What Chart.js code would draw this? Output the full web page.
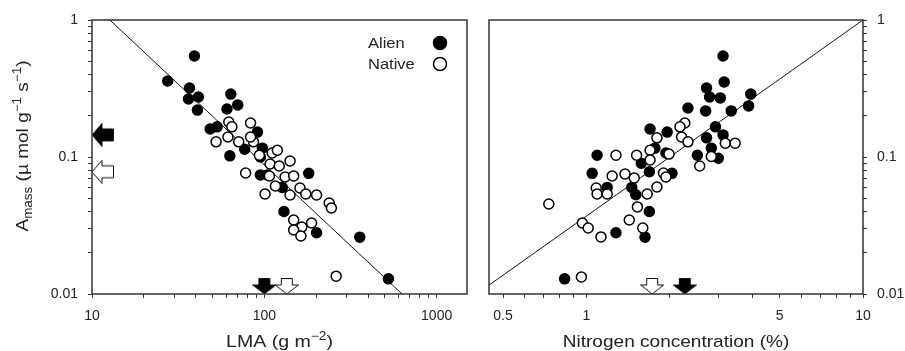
<!DOCTYPE html>
<html>
<head>
<meta charset="utf-8">
<script src="https://cdn.jsdelivr.net/npm/chart.js@4"></script>
<style>
  body { margin: 0; background: #fff; }
  #izq { position: absolute; left: 0; top: 0; }
  #der { position: absolute; left: 478px; top: 0; }
</style>
</head>
<body>
<canvas id="izq" width="478" height="351"></canvas>
<canvas id="der" width="427" height="351"></canvas>
<script>
// Datos (escala log en ambos ejes)
const lmaAlien = [39.3, 27.5, 36.8, 36.3, 41.4, 40.9, 63.9, 70.1, 60.7, 48.5, 53.2, 91.2, 97.4, 76.9, 63.1, 94.9, 94.9, 104, 127, 181, 130, 201, 358, 525];
const amassAlienLma = [0.546, 0.359, 0.319, 0.265, 0.274, 0.220, 0.288, 0.240, 0.224, 0.160, 0.166, 0.152, 0.116, 0.114, 0.102, 0.100, 0.074, 0.074, 0.060, 0.076, 0.040, 0.028, 0.026, 0.0129];

const lmaNative = [62.2, 64.8, 83.2, 52.5, 61.5, 71.0, 86.5, 83.2, 111, 119, 93.6, 141, 108, 122, 77.9, 107, 132, 148, 116, 101, 141, 161, 174, 201, 238, 245, 148, 188, 165, 148, 163, 261];
const amassNativeLma = [0.180, 0.166, 0.177, 0.129, 0.140, 0.129, 0.129, 0.140, 0.107, 0.112, 0.103, 0.0935, 0.0889, 0.0860, 0.0764, 0.0727, 0.0715, 0.0727, 0.0614, 0.0537, 0.0528, 0.0594, 0.0537, 0.0528, 0.0462, 0.0424, 0.0347, 0.0330, 0.0308, 0.0293, 0.0265, 0.0135];

const nAlien = [3.12, 3.15, 2.72, 2.79, 3.05, 3.93, 3.86, 2.33, 2.70, 3.34, 2.93, 2.72, 3.12, 2.83, 2.52, 3.00, 1.70, 1.96, 1.094, 1.05, 1.77, 1.94, 1.58, 1.69, 2.04, 1.19, 1.46, 1.51, 1.69, 1.28, 1.63, 0.835];
const amassAlienN = [0.546, 0.353, 0.319, 0.274, 0.270, 0.288, 0.236, 0.228, 0.217, 0.217, 0.166, 0.138, 0.145, 0.116, 0.103, 0.098, 0.160, 0.152, 0.103, 0.076, 0.116, 0.107, 0.090, 0.078, 0.076, 0.060, 0.060, 0.053, 0.040, 0.028, 0.026, 0.0129];

const nNative = [2.27, 2.18, 1.80, 2.21, 2.33, 1.70, 1.70, 1.52, 1.28, 1.99, 1.24, 1.38, 1.49, 1.90, 1.94, 1.086, 1.094, 1.19, 1.80, 1.66, 1.53, 1.43, 0.968, 1.016, 1.13, 1.60, 0.732, 0.96, 3.18, 3.45, 2.83, 2.57];
const amassNativeN = [0.177, 0.166, 0.138, 0.140, 0.129, 0.112, 0.095, 0.103, 0.103, 0.105, 0.0727, 0.0752, 0.0703, 0.0764, 0.0715, 0.0594, 0.0537, 0.0537, 0.0604, 0.0537, 0.0432, 0.0347, 0.0330, 0.0303, 0.0261, 0.0303, 0.0454, 0.0133, 0.126, 0.126, 0.101, 0.086];

// rectas de regresion (extremos)
const lmaFit = [12.7, 630];
const amassFitLma = [1, 0.01];
const nFit = [0.445, 10];
const amassFitN = [0.0116, 1];

// medias (flechas): [alien, native]
const meanLma = [100, 135];
const meanN = [2.27, 1.73];
const meanAmass = [0.145, 0.078];

// ejes
const lmaRange = [10, 1500];
const nRange = [0.445, 10];
const amassRange = [0.01, 1];
const lmaTicks = [10, 20, 30, 40, 50, 60, 70, 80, 90, 100, 200, 300, 400, 500, 600, 700, 800, 900, 1000];
const lmaLabels = [10, 100, 1000];
const nTicks = [0.5, 0.6, 0.7, 0.8, 0.9, 1, 2, 3, 4, 5, 6, 7, 8, 9, 10];
const nLabels = [0.5, 1, 5, 10];
const amassTicks = [0.01, 0.02, 0.03, 0.04, 0.05, 0.06, 0.07, 0.08, 0.09, 0.1, 0.2, 0.3, 0.4, 0.5, 0.6, 0.7, 0.8, 0.9, 1];
const amassLabels = [0.01, 0.1, 1];

const fuente = '"Liberation Sans", Arial, sans-serif';
Chart.defaults.font.family = fuente;
Chart.defaults.font.size = 14;
Chart.defaults.color = '#222';

function zip(xs, ys) {
  return xs.map(function (x, i) { return {x: x, y: ys[i]}; });
}

// flecha como imagen; la punta queda en el centro del canvas
function crearFlecha(direccion, relleno) {
  var c = document.createElement('canvas');
  var ctx;
  if (direccion === 'izquierda') {
    c.width = 44; c.height = 24;
    ctx = c.getContext('2d');
    ctx.beginPath();
    ctx.moveTo(22, 12);
    ctx.lineTo(32, 0.5);
    ctx.lineTo(32, 6);
    ctx.lineTo(43.5, 6);
    ctx.lineTo(43.5, 18);
    ctx.lineTo(32, 18);
    ctx.lineTo(32, 23.5);
    ctx.closePath();
  } else {
    c.width = 24; c.height = 32;
    ctx = c.getContext('2d');
    ctx.beginPath();
    ctx.moveTo(12, 16);
    ctx.lineTo(0.5, 7);
    ctx.lineTo(6.5, 7);
    ctx.lineTo(6.5, 0.5);
    ctx.lineTo(17.5, 0.5);
    ctx.lineTo(17.5, 7);
    ctx.lineTo(23.5, 7);
    ctx.closePath();
  }
  ctx.fillStyle = relleno;
  ctx.fill();
  ctx.lineWidth = 1;
  ctx.strokeStyle = '#111';
  ctx.stroke();
  return c;
}

function puntos(label, data, relleno) {
  return {
    label: label, data: data,
    pointRadius: 5, pointBorderWidth: 1.5,
    pointBackgroundColor: relleno, pointBorderColor: '#000',
    clip: false
  };
}

function recta(data) {
  return {
    data: data, showLine: true, pointRadius: 0,
    borderColor: '#111', borderWidth: 1, clip: false
  };
}

function flechas(data, estilos) {
  return { data: data, pointStyle: estilos, pointRadius: 10, clip: false };
}

function ejeLog(rango, valores, etiquetas, posicion, tam) {
  return {
    type: 'logarithmic', position: posicion,
    min: rango[0], max: rango[1],
    grid: { drawOnChartArea: false, drawTicks: true, tickLength: 4, color: '#333', lineWidth: 1 },
    border: { display: false },
    ticks: {
      autoSkip: false, maxRotation: 0, padding: 10, color: '#222',
      callback: function (v) { return etiquetas.indexOf(v) >= 0 ? String(v) : ''; }
    },
    afterBuildTicks: function (s) { s.ticks = valores.map(function (v) { return {value: v}; }); },
    afterFit: function (s) {
      if (posicion === 'bottom') { s.height = tam; } else { s.width = tam; }
    }
  };
}

// texto con sub/superindices, centrado o a la izquierda
function textoCompuesto(ctx, partes, x, y, rot, estirar, alinear) {
  var ancho = 0;
  partes.forEach(function (p) {
    ctx.font = p.size + 'px ' + fuente;
    p.w = ctx.measureText(p.t).width;
    ancho += p.w;
  });
  ctx.save();
  ctx.translate(x, y);
  ctx.rotate(rot);
  ctx.scale(estirar, 1);
  ctx.fillStyle = '#222';
  ctx.textBaseline = 'alphabetic';
  ctx.textAlign = 'left';
  var cx = alinear === 'left' ? 0 : -ancho / 2;
  partes.forEach(function (p) {
    ctx.font = p.size + 'px ' + fuente;
    ctx.fillText(p.t, cx, p.dy || 0);
    cx += p.w;
  });
  ctx.restore();
}

function marco(chart) {
  var a = chart.chartArea, ctx = chart.ctx;
  ctx.save();
  ctx.strokeStyle = '#333';
  ctx.lineWidth = 1.5;
  ctx.strokeRect(a.left, a.top, a.right - a.left, a.bottom - a.top);
  ctx.restore();
}

const decoIzq = {
  id: 'decoIzq',
  afterDraw: function (chart) {
    var ctx = chart.ctx, a = chart.chartArea;
    marco(chart);
    textoCompuesto(ctx, [
      {t: 'LMA (g m', size: 17}, {t: '\u22122', size: 12, dy: -7}, {t: ')', size: 17}
    ], (a.left + a.right) / 2, 347, 0, 1.15);
    textoCompuesto(ctx, [
      {t: 'A', size: 17}, {t: 'mass', size: 12, dy: 4},
      {t: ' (\u00b5 mol g', size: 17}, {t: '\u22121', size: 12, dy: -7},
      {t: ' s', size: 17}, {t: '\u22121', size: 12, dy: -7}, {t: ')', size: 17}
    ], 28, 146, -Math.PI / 2, 1.12);
    // leyenda
    textoCompuesto(ctx, [{t: 'Alien', size: 15}], 368, 48, 0, 1.1, 'left');
    textoCompuesto(ctx, [{t: 'Native', size: 15}], 368, 69, 0, 1.1, 'left');
    ctx.save();
    ctx.lineWidth = 1.5;
    ctx.strokeStyle = '#000';
    ctx.beginPath(); ctx.arc(440, 43, 6.5, 0, 2 * Math.PI);
    ctx.fillStyle = '#000'; ctx.fill(); ctx.stroke();
    ctx.beginPath(); ctx.arc(440, 64, 6.5, 0, 2 * Math.PI);
    ctx.fillStyle = '#fff'; ctx.fill(); ctx.stroke();
    ctx.restore();
  }
};

const decoDer = {
  id: 'decoDer',
  afterDraw: function (chart) {
    var a = chart.chartArea;
    marco(chart);
    textoCompuesto(chart.ctx, [{t: 'Nitrogen concentration (%)', size: 17}],
      (a.left + a.right) / 2, 347, 0, 1.12);
  }
};

const flechaNegraIzq = crearFlecha('izquierda', '#000');
const flechaBlancaIzq = crearFlecha('izquierda', '#fff');
const flechaNegraAbajo = crearFlecha('abajo', '#000');
const flechaBlancaAbajo = crearFlecha('abajo', '#fff');

function opciones(ejeX, ejeY, padding) {
  return {
    responsive: false, animation: false, devicePixelRatio: 1, events: [],
    layout: { padding: padding },
    plugins: { legend: { display: false }, tooltip: { enabled: false } },
    scales: { x: ejeX, y: ejeY }
  };
}

new Chart(document.getElementById('izq'), {
  type: 'scatter',
  data: { datasets: [
    puntos('Native', zip(lmaNative, amassNativeLma), '#fff'),
    puntos('Alien', zip(lmaAlien, amassAlienLma), '#000'),
    flechas(zip(meanLma, [amassRange[0], amassRange[0]]), [flechaNegraAbajo, flechaBlancaAbajo]),
    flechas(zip([lmaRange[0], lmaRange[0]], meanAmass), [flechaNegraIzq, flechaBlancaIzq]),
    recta(zip(lmaFit, amassFitLma))
  ] },
  options: opciones(
    ejeLog(lmaRange, lmaTicks, lmaLabels, 'bottom', 57),
    ejeLog(amassRange, amassTicks, amassLabels, 'left', 92),
    { left: 0, right: 5, top: 20, bottom: 0 }
  ),
  plugins: [decoIzq]
});

new Chart(document.getElementById('der'), {
  type: 'scatter',
  data: { datasets: [
    puntos('Native', zip(nNative, amassNativeN), '#fff'),
    puntos('Alien', zip(nAlien, amassAlienN), '#000'),
    flechas(zip(meanN, [amassRange[0], amassRange[0]]), [flechaNegraAbajo, flechaBlancaAbajo]),
    recta(zip(nFit, amassFitN))
  ] },
  options: opciones(
    ejeLog(nRange, nTicks, nLabels, 'bottom', 57),
    ejeLog(amassRange, amassTicks, amassLabels, 'right', 42),
    { left: 5, right: 0, top: 20, bottom: 0 }
  ),
  plugins: [decoDer]
});
</script>
</body>
</html>
